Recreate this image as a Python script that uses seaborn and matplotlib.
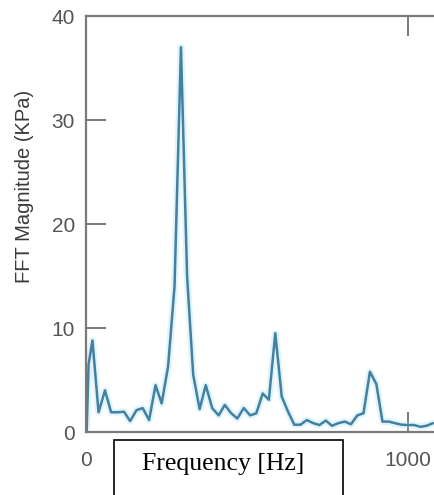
import matplotlib
matplotlib.use("Agg")
import matplotlib.pyplot as plt
from matplotlib.patches import Rectangle
import seaborn as sns
import pandas as pd

# Data
freq_hz = [2, 8, 20, 39, 59, 78, 98, 118, 137, 157, 176, 196, 216, 235, 255, 275,
           295, 314, 333, 353, 372, 392, 412, 431, 451, 470, 490, 510, 529, 549,
           568, 588, 608, 627, 647, 666, 686, 706, 725, 745, 764, 784, 804, 823,
           843, 862, 882, 902, 921, 941, 960, 980, 1000, 1019, 1039, 1058, 1078]
fft_kpa = [0.0, 6.5, 8.8, 1.9, 4.0, 1.9, 1.9, 1.95, 1.05, 2.1, 2.3, 1.15, 4.5, 2.75, 6.3, 14.0,
           37.0, 15.0, 5.5, 2.2, 4.5, 2.3, 1.6, 2.6, 1.8, 1.3, 2.3, 1.6, 1.8, 3.7,
           3.1, 9.5, 3.4, 2.0, 0.7, 0.7, 1.15, 0.85, 0.67, 1.1, 0.6, 0.85, 1.0, 0.75,
           1.6, 1.8, 5.8, 4.6, 1.0, 1.0, 0.85, 0.7, 0.67, 0.67, 0.5, 0.6, 0.85]
x_ticks = [0, 1000]
y_ticks = [0, 10, 20, 30, 40]
y_label = "FFT Magnitude (KPa)"
x_label = "Frequency [Hz]"

df = pd.DataFrame({"freq": freq_hz, "mag": fft_kpa})

sns.set_style("white")
plt.rcParams["font.family"] = ["Liberation Sans", "DejaVu Sans"]

W, H = 434, 495
fig = plt.figure(figsize=(W / 100, H / 100), dpi=100)
ax = fig.add_axes([86 / W, 1 - 432 / H, (W - 86) / W + 0.01, (432 - 16) / H])

# soft glow underneath, then the main line
sns.lineplot(data=df, x="freq", y="mag", ax=ax, color="#a8e0f7", lw=5.0, alpha=0.35)
sns.lineplot(data=df, x="freq", y="mag", ax=ax, color="#44809f", lw=1.8)

ax.set_xlim(0, 1081 * (1 + 0.01 * W / (W - 86)))
ax.set_ylim(0, 40)
ax.set_xticks(x_ticks)
ax.set_yticks(y_ticks)
ax.set_xlabel("")
ax.set_ylabel("")

for side in ["left", "bottom", "top"]:
    ax.spines[side].set_visible(True)
    ax.spines[side].set_color("#7a7a7a")
    ax.spines[side].set_linewidth(1.6)
ax.spines["right"].set_visible(False)

ax.tick_params(axis="both", direction="in", length=14.4, width=1.1, color="#555555",
               labelsize=15, labelcolor="#555555")
ax.tick_params(axis="x", bottom=True, top=True, pad=14)
ax.tick_params(axis="y", left=True, right=False, pad=8)

fig.text(25 / W, 1 - 186 / H, y_label, rotation=90, ha="center", va="center",
         fontsize=14.5, color="#3a3a3a")

# boxed x label
rect = Rectangle((114 / W, -0.05), (343 - 114) / W, 0.05 + (1 - 439.5 / H),
                 transform=fig.transFigure, facecolor="white", edgecolor="black",
                 linewidth=1.2, clip_on=False)
fig.patches.append(rect)
fig.text(223 / W, 1 - 464 / H, x_label, ha="center", va="center", fontsize=18.5,
         family=["Liberation Serif", "DejaVu Serif"], color="black")

fig.savefig("out.png", dpi=100)
